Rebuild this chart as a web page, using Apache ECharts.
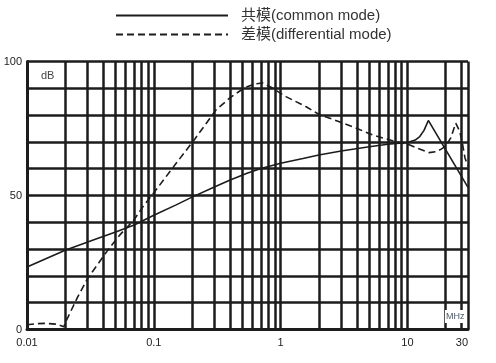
<!DOCTYPE html>
<html>
<head>
<meta charset="utf-8">
<script src="https://cdn.jsdelivr.net/npm/echarts@6/dist/echarts.min.js"></script>
<style>
html,body{margin:0;padding:0;background:#fff;}
#chart{width:496px;height:363px;}
</style>
</head>
<body>
<div id="chart"></div>
<script>
// ---- data ----
const seriesNames = ['共模(common mode)', '差模(differential mode)'];

const commonFreq = [0.01, 0.02, 0.035, 0.05, 0.07, 0.1, 0.15, 0.2, 0.3, 0.4, 0.55, 0.7, 1, 1.5, 2, 3, 5, 7, 10, 11.5, 12.5, 13.5, 14.6, 30];
const commonDb   = [23.3, 29.6, 33.8, 36.4, 39.0, 42.6, 46.5, 49.4, 53.2, 55.8, 58.4, 60.1, 62.0, 63.8, 65.1, 66.6, 68.2, 69.1, 69.8, 70.7, 72.0, 74.3, 78.0, 53.0];

const diffFreq = [0.01, 0.012, 0.014, 0.017, 0.0195, 0.0205, 0.025, 0.03, 0.0435, 0.054, 0.07, 0.082, 0.1, 0.118, 0.15, 0.21, 0.31, 0.4, 0.473, 0.55, 0.64, 0.72, 0.84, 1.1, 1.59, 2.0, 2.9, 4, 5.3, 8.1, 10, 12, 14.8, 17, 18.3, 20, 22, 24, 25.8, 27.1, 28.4, 30];
const diffDb   = [1.8, 2.2, 2.3, 2.0, 1.0, 3.5, 12, 19, 29.7, 35.3, 41, 45.8, 51, 55.5, 62, 71, 82, 86.5, 88.9, 90.7, 91.7, 92, 90.4, 86.9, 83.1, 80.3, 77.5, 75, 72.6, 70.1, 69.2, 67.6, 66, 66.4, 67.2, 68.4, 71.6, 77, 74, 69.5, 64, 61];

const minorGridFreq = [0.02,0.03,0.04,0.05,0.06,0.07,0.08,0.09,
                       0.2,0.3,0.4,0.5,0.6,0.7,0.8,0.9,
                       2,3,4,5,6,7,8,9,20,26.5];
const yLabelValues = [0, 50, 100];
const xMin = 0.01, xMax = 30;
const yMin = 0, yMax = 100, yStep = 10;

// ---- chart ----
const FONT = "'Liberation Sans', Arial, 'Noto Sans CJK SC', sans-serif";
const INK = '#1c1c1c';
const chart = echarts.init(document.getElementById('chart'), null, {renderer: 'canvas'});

const pair = (xs, ys) => xs.map((x, i) => [x, ys[i]]);

chart.setOption({
  animation: false,
  backgroundColor: '#fff',
  textStyle: {fontFamily: FONT},
  grid: {left: 27, right: 28, top: 61.5, bottom: 33.5, containLabel: false},
  legend: {
    orient: 'vertical',
    left: 110,
    top: 3,
    itemWidth: 112,
    itemHeight: 14,
    itemGap: 4,
    selectedMode: false,
    itemStyle: {opacity: 0},
    textStyle: {fontFamily: FONT, fontSize: 15, color: '#333', padding: [0, 0, 0, 8]},
    data: seriesNames
  },
  xAxis: {
    type: 'log',
    logBase: 10,
    min: xMin,
    max: xMax,
    axisLine: {show: true, lineStyle: {color: INK, width: 3}},
    axisTick: {show: false},
    axisLabel: {color: '#222', fontSize: 11, margin: 8, fontFamily: FONT,
      alignMaxLabel: 'right',
      formatter: v => String(+v.toPrecision(6))},
    splitLine: {show: true, lineStyle: {color: INK, width: 2.5}}
  },
  yAxis: {
    type: 'value',
    min: yMin,
    max: yMax,
    interval: yStep,
    axisLine: {show: true, lineStyle: {color: INK, width: 3}},
    axisTick: {show: false},
    axisLabel: {color: '#222', fontSize: 11, margin: 5, fontFamily: FONT,
      formatter: v => yLabelValues.indexOf(v) >= 0 ? String(v) : ''},
    splitLine: {show: true, lineStyle: {color: INK, width: 2.5}}
  },
  series: [
    {
      name: seriesNames[0],
      type: 'line',
      z: 10,
      symbol: 'none',
      smooth: false,
      lineStyle: {color: INK, width: 1.6, type: 'solid'},
      itemStyle: {color: INK},
      data: pair(commonFreq, commonDb),
      markLine: {
        z: 1,
        silent: true,
        animation: false,
        symbol: ['none', 'none'],
        label: {show: false},
        lineStyle: {color: INK, width: 2.5, type: 'solid'},
        emphasis: {disabled: true},
        data: minorGridFreq.map(f => ({xAxis: f}))
      }
    },
    {
      name: seriesNames[1],
      type: 'line',
      z: 10,
      symbol: 'none',
      smooth: false,
      lineStyle: {color: INK, width: 1.6, type: [7, 4]},
      itemStyle: {color: INK},
      data: pair(diffFreq, diffDb)
    }
  ],
  graphic: [
    {type: 'text', left: 41, top: 70, z: 100,
     style: {text: 'dB', fill: '#444', font: '11px ' + FONT}},
    {type: 'text', left: 445, top: 310, z: 100,
     style: {text: 'MHz', fill: '#4d5866', font: '9px ' + FONT,
             backgroundColor: '#fff', padding: [2, 1, 2, 1]}}
  ]
});
</script>
</body>
</html>
